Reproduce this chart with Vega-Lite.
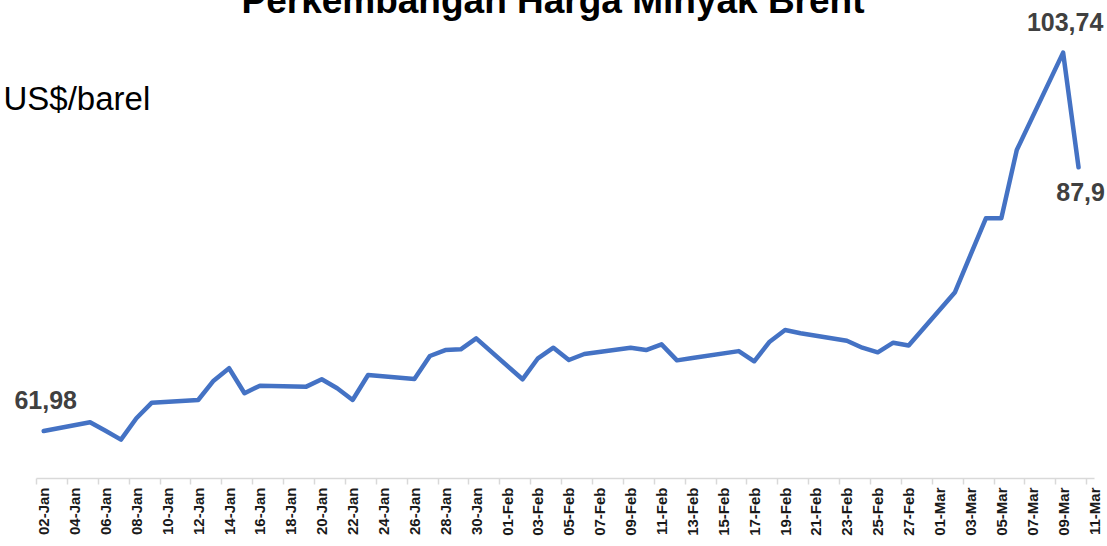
{
  "$schema": "https://vega.github.io/schema/vega-lite/v6.json",
  "autosize": "none",
  "width": 1058,
  "height": 464,
  "padding": {"left": 36, "top": 14, "right": 13, "bottom": 68},
  "background": "white",
  "config": {"view": {"stroke": null}},
  "title": {
    "text": "Perkembangan Harga Minyak Brent",
    "font": "Liberation Sans",
    "fontSize": 37,
    "fontWeight": "bold",
    "color": "#000000",
    "anchor": "middle",
    "offset": 0,
    "dx": -12,
    "dy": 10
  },
  "data": {
    "values": [
      {"date": "2026-01-02", "price": 61.98, "label": "61,98"},
      {"date": "2026-01-05", "price": 62.95},
      {"date": "2026-01-06", "price": 62.01},
      {"date": "2026-01-07", "price": 61.03},
      {"date": "2026-01-08", "price": 63.39},
      {"date": "2026-01-09", "price": 65.11},
      {"date": "2026-01-12", "price": 65.41},
      {"date": "2026-01-13", "price": 67.54},
      {"date": "2026-01-14", "price": 68.91},
      {"date": "2026-01-15", "price": 66.15},
      {"date": "2026-01-16", "price": 66.99},
      {"date": "2026-01-19", "price": 66.88},
      {"date": "2026-01-20", "price": 67.69},
      {"date": "2026-01-21", "price": 66.70},
      {"date": "2026-01-22", "price": 65.41},
      {"date": "2026-01-23", "price": 68.17},
      {"date": "2026-01-26", "price": 67.72},
      {"date": "2026-01-27", "price": 70.26},
      {"date": "2026-01-28", "price": 70.92},
      {"date": "2026-01-29", "price": 71.00},
      {"date": "2026-01-30", "price": 72.21},
      {"date": "2026-02-02", "price": 67.69},
      {"date": "2026-02-03", "price": 70.01},
      {"date": "2026-02-04", "price": 71.18},
      {"date": "2026-02-05", "price": 69.82},
      {"date": "2026-02-06", "price": 70.48},
      {"date": "2026-02-09", "price": 71.18},
      {"date": "2026-02-10", "price": 70.92},
      {"date": "2026-02-11", "price": 71.55},
      {"date": "2026-02-12", "price": 69.78},
      {"date": "2026-02-13", "price": 70.05},
      {"date": "2026-02-16", "price": 70.80},
      {"date": "2026-02-17", "price": 69.68},
      {"date": "2026-02-18", "price": 71.84},
      {"date": "2026-02-19", "price": 73.13},
      {"date": "2026-02-20", "price": 72.77},
      {"date": "2026-02-23", "price": 71.95},
      {"date": "2026-02-24", "price": 71.18},
      {"date": "2026-02-25", "price": 70.67},
      {"date": "2026-02-26", "price": 71.73},
      {"date": "2026-02-27", "price": 71.42},
      {"date": "2026-03-02", "price": 77.30},
      {"date": "2026-03-03", "price": 81.40},
      {"date": "2026-03-04", "price": 85.46},
      {"date": "2026-03-05", "price": 85.46},
      {"date": "2026-03-06", "price": 92.99},
      {"date": "2026-03-09", "price": 103.74, "label": "103,74"},
      {"date": "2026-03-10", "price": 91.08, "label": "87,9"}
    ]
  },
  "encoding": {
    "x": {
      "field": "date",
      "type": "temporal",
      "scale": {
        "type": "utc",
        "domain": [
          {"year": 2026, "month": 1, "date": 1, "hours": 12, "utc": true},
          {"year": 2026, "month": 3, "date": 11, "utc": true}
        ]
      },
      "axis": {
        "title": null,
        "labelExpr": "utcFormat(datum.value, '%d-%b')",
        "values": [
          {"year": 2026, "month": 1, "date": 2, "utc": true},
          {"year": 2026, "month": 1, "date": 4, "utc": true},
          {"year": 2026, "month": 1, "date": 6, "utc": true},
          {"year": 2026, "month": 1, "date": 8, "utc": true},
          {"year": 2026, "month": 1, "date": 10, "utc": true},
          {"year": 2026, "month": 1, "date": 12, "utc": true},
          {"year": 2026, "month": 1, "date": 14, "utc": true},
          {"year": 2026, "month": 1, "date": 16, "utc": true},
          {"year": 2026, "month": 1, "date": 18, "utc": true},
          {"year": 2026, "month": 1, "date": 20, "utc": true},
          {"year": 2026, "month": 1, "date": 22, "utc": true},
          {"year": 2026, "month": 1, "date": 24, "utc": true},
          {"year": 2026, "month": 1, "date": 26, "utc": true},
          {"year": 2026, "month": 1, "date": 28, "utc": true},
          {"year": 2026, "month": 1, "date": 30, "utc": true},
          {"year": 2026, "month": 2, "date": 1, "utc": true},
          {"year": 2026, "month": 2, "date": 3, "utc": true},
          {"year": 2026, "month": 2, "date": 5, "utc": true},
          {"year": 2026, "month": 2, "date": 7, "utc": true},
          {"year": 2026, "month": 2, "date": 9, "utc": true},
          {"year": 2026, "month": 2, "date": 11, "utc": true},
          {"year": 2026, "month": 2, "date": 13, "utc": true},
          {"year": 2026, "month": 2, "date": 15, "utc": true},
          {"year": 2026, "month": 2, "date": 17, "utc": true},
          {"year": 2026, "month": 2, "date": 19, "utc": true},
          {"year": 2026, "month": 2, "date": 21, "utc": true},
          {"year": 2026, "month": 2, "date": 23, "utc": true},
          {"year": 2026, "month": 2, "date": 25, "utc": true},
          {"year": 2026, "month": 2, "date": 27, "utc": true},
          {"year": 2026, "month": 3, "date": 1, "utc": true},
          {"year": 2026, "month": 3, "date": 3, "utc": true},
          {"year": 2026, "month": 3, "date": 5, "utc": true},
          {"year": 2026, "month": 3, "date": 7, "utc": true},
          {"year": 2026, "month": 3, "date": 9, "utc": true},
          {"year": 2026, "month": 3, "date": 11, "utc": true}
        ],
        "labelAngle": 270,
        "labelFont": "Liberation Sans",
        "labelFontSize": 15,
        "labelFontWeight": "bold",
        "labelColor": "#1a1a1a",
        "labelPadding": 3,
        "labelOverlap": false,
        "labelBound": false,
        "labelFlush": false,
        "tickOffset": -7.72,
        "labelOffset": 7.72,
        "tickSize": 6,
        "tickColor": "#d9d9d9",
        "tickWidth": 1.5,
        "domainColor": "#d9d9d9",
        "domainWidth": 1.5,
        "grid": false
      }
    },
    "y": {
      "field": "price",
      "type": "quantitative",
      "scale": {"domain": [56.8, 108], "zero": false, "nice": false},
      "axis": {
        "title": "US$/barel",
        "domain": false,
        "ticks": false,
        "labels": false,
        "grid": false,
        "titleAngle": 0,
        "titleAlign": "left",
        "titleBaseline": "alphabetic",
        "titleX": -33,
        "titleY": 95,
        "titleFont": "Liberation Sans",
        "titleFontSize": 33,
        "titleFontWeight": "normal",
        "titleColor": "#000000"
      }
    }
  },
  "layer": [
    {
      "mark": {"type": "line", "color": "#4472C4", "strokeWidth": 4.5, "strokeJoin": "round", "strokeCap": "round"}
    },
    {
      "transform": [
        {"filter": "isString(datum.label)"},
        {"filter": {"not": {"field": "date", "equal": {"year": 2026, "month": 3, "date": 10, "utc": true}}}}
      ],
      "mark": {"type": "text", "font": "Liberation Sans", "fontSize": 25, "fontWeight": "bold", "color": "#404040", "align": "center", "baseline": "alphabetic", "dx": 2, "dy": -22},
      "encoding": {"text": {"field": "label", "type": "nominal"}}
    },
    {
      "transform": [
        {"filter": {"field": "date", "equal": {"year": 2026, "month": 3, "date": 10, "utc": true}}}
      ],
      "mark": {"type": "text", "font": "Liberation Sans", "fontSize": 25, "fontWeight": "bold", "color": "#404040", "align": "center", "baseline": "alphabetic", "dx": 2, "dy": 34},
      "encoding": {"text": {"field": "label", "type": "nominal"}}
    }
  ]
}
